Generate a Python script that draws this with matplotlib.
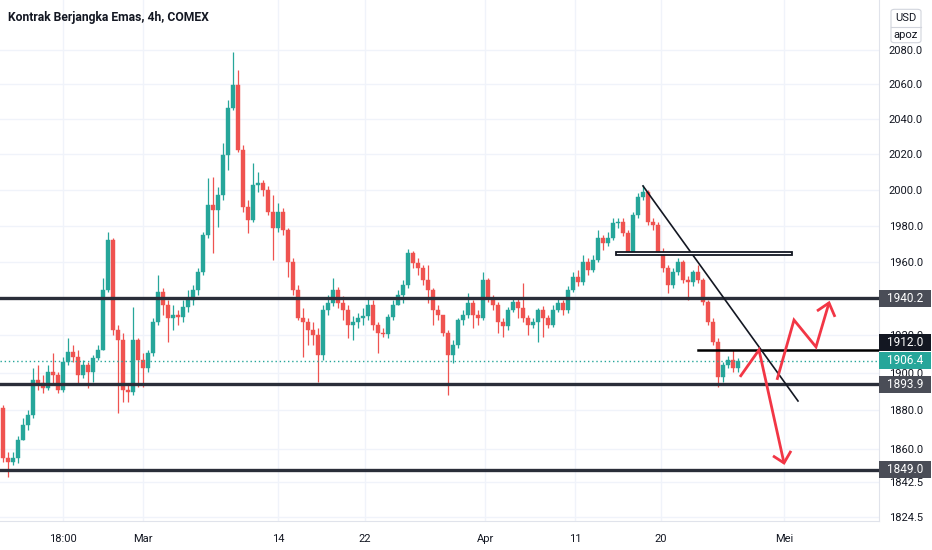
import numpy as np
import matplotlib.pyplot as plt
from matplotlib.patches import Rectangle, FancyBboxPatch
from matplotlib.ticker import FixedLocator, NullLocator, FuncFormatter

plt.rcParams['font.family'] = ['Roboto', 'DejaVu Sans']

title = "Kontrak Berjangka Emas, 4h, COMEX"

# candles, one every 8 hours or so
first_open = 1881.3
closes = [1855.1, 1853.1, 1855.1, 1864.5, 1872.4, 1877.6, 1896.2, 1894.6, 1891.9, 1900.4,
          1898.8, 1890.9, 1905.8, 1911.1, 1908.4, 1898.8, 1904.2, 1900.4, 1907.9, 1912.2,
          1944.7, 1972.1, 1922.9, 1917.5, 1890.9, 1889.8, 1917.5, 1906.8, 1902.6, 1910.6,
          1927.3, 1943.6, 1936.5, 1929.4, 1931.1, 1930.0, 1935.4, 1939.2, 1944.7, 1954.5,
          1974.9, 1991.6, 1988.8, 1997.1, 2019.7, 2046.5, 2059.7, 2022.5, 1990.4, 1983.2,
          2002.8, 2003.9, 1999.9, 1987.6, 1978.7, 1987.6, 1977.6, 1960.0, 1944.7, 1929.4,
          1927.3, 1922.9, 1920.2, 1909.5, 1933.8, 1937.6, 1944.7, 1937.6, 1933.8, 1925.6,
          1927.3, 1929.4, 1930.5, 1936.5, 1925.6, 1921.3, 1920.8, 1930.0, 1936.5, 1941.9,
          1947.4, 1964.9, 1959.4, 1956.7, 1950.1, 1944.7, 1933.8, 1931.1, 1921.3, 1909.5,
          1914.9, 1928.3, 1931.1, 1937.6, 1931.1, 1929.4, 1950.1, 1940.3, 1936.5, 1927.3,
          1925.1, 1933.8, 1938.1, 1934.9, 1929.4, 1925.6, 1927.3, 1933.8, 1929.4, 1925.6,
          1933.8, 1937.6, 1933.8, 1944.7, 1951.8, 1949.0, 1959.9, 1955.6, 1961.0, 1973.2,
          1970.5, 1973.2, 1981.5, 1982.1, 1976.0, 1965.5, 1985.9, 1996.0, 1998.8, 1982.1,
          1980.4, 1965.5, 1956.7, 1947.4, 1954.5, 1960.0, 1950.1, 1949.0, 1954.5, 1950.1,
          1938.1, 1927.3, 1916.5, 1897.8, 1904.2, 1906.8, 1902.6, 1906.4]
highs = [1882.9, 1858.2, 1858.2, 1866.6, 1876.1, 1880.2, 1902.6, 1904.2, 1898.8, 1904.2,
         1910.6, 1900.4, 1908.4, 1918.6, 1914.9, 1912.2, 1906.8, 1905.8, 1909.5, 1914.9,
         1951.2, 1976.5, 1973.2, 1925.6, 1921.3, 1893.5, 1935.4, 1918.6, 1910.6, 1912.2,
         1929.4, 1952.8, 1945.8, 1939.2, 1936.5, 1933.8, 1939.2, 1944.7, 1947.4, 1956.7,
         1976.5, 2006.7, 2007.3, 2001.6, 2026.5, 2051.1, 2078.8, 2068.4, 2025.3, 1994.4,
         2015.2, 2010.1, 2005.6, 2002.2, 1997.1, 1992.7, 1989.9, 1978.7, 1962.2, 1947.4,
         1934.9, 1929.4, 1927.3, 1924.0, 1936.5, 1941.9, 1951.2, 1946.3, 1941.3, 1936.5,
         1930.5, 1932.1, 1934.9, 1940.3, 1939.2, 1927.3, 1924.0, 1931.6, 1939.2, 1944.7,
         1950.1, 1967.1, 1966.0, 1962.2, 1958.3, 1958.3, 1945.8, 1936.5, 1931.1, 1922.9,
         1917.5, 1929.4, 1933.8, 1943.0, 1939.2, 1933.8, 1954.5, 1951.2, 1941.9, 1938.1,
         1929.4, 1935.4, 1940.3, 1940.3, 1948.5, 1931.1, 1929.4, 1934.9, 1935.9, 1931.1,
         1936.5, 1940.3, 1939.2, 1946.9, 1954.5, 1955.6, 1963.8, 1962.2, 1963.8, 1977.6,
         1974.9, 1976.5, 1984.3, 1984.3, 1984.3, 1977.6, 1987.6, 1998.3, 2002.8, 1999.9,
         1984.3, 1982.1, 1967.7, 1958.3, 1956.7, 1962.2, 1961.0, 1952.3, 1955.6, 1958.3,
         1951.2, 1939.2, 1929.4, 1918.6, 1905.8, 1909.0, 1912.2, 1907.9]
lows = [1853.1, 1845.3, 1851.5, 1852.5, 1864.5, 1869.8, 1876.1, 1890.9, 1889.3, 1890.9,
        1893.5, 1889.3, 1889.8, 1904.2, 1905.8, 1893.5, 1897.2, 1891.9, 1895.1, 1906.8,
        1912.2, 1943.6, 1920.2, 1878.7, 1884.5, 1884.5, 1888.2, 1892.5, 1892.5, 1900.4,
        1909.0, 1925.6, 1931.1, 1916.5, 1922.9, 1925.6, 1927.3, 1932.7, 1936.5, 1941.9,
        1952.8, 1973.2, 1964.9, 1979.3, 1994.4, 2011.2, 2045.3, 2021.4, 1987.6, 1976.0,
        1982.1, 1998.8, 1996.6, 1985.9, 1961.0, 1976.5, 1974.9, 1951.8, 1941.9, 1928.3,
        1908.4, 1914.9, 1914.9, 1895.1, 1906.8, 1931.1, 1935.9, 1934.9, 1928.3, 1918.6,
        1917.5, 1924.0, 1925.6, 1928.3, 1922.9, 1910.6, 1919.1, 1918.6, 1928.3, 1938.1,
        1937.6, 1945.8, 1956.7, 1952.8, 1947.4, 1937.6, 1925.6, 1928.3, 1919.7, 1888.2,
        1905.2, 1913.3, 1925.6, 1929.4, 1924.0, 1925.6, 1928.3, 1938.1, 1933.8, 1921.3,
        1919.1, 1922.9, 1932.7, 1929.4, 1927.3, 1920.2, 1924.0, 1916.5, 1919.1, 1924.0,
        1924.6, 1932.7, 1931.1, 1932.1, 1943.6, 1946.9, 1947.4, 1952.8, 1954.5, 1959.9,
        1966.6, 1968.8, 1972.1, 1978.7, 1974.3, 1963.8, 1964.4, 1984.3, 1994.4, 1980.4,
        1977.6, 1963.8, 1954.5, 1943.0, 1945.8, 1952.8, 1948.5, 1939.2, 1946.9, 1948.5,
        1936.5, 1925.6, 1914.9, 1892.5, 1895.1, 1902.6, 1900.4, 1900.4]

x_tick_pos = [12.0, 28.0, 55.0, 72.4, 96.4, 114.4, 131.5, 156.2]
x_tick_labels = ["18:00", "Mar", "14", "22", "Apr", "11", "20", "Mei"]
y_ticks = [2080, 2060, 2040, 2020, 2000, 1980, 1960, 1940, 1920, 1900, 1880, 1860, 1842.5, 1824.5]
y_hidden = [1940]  # label sits fully under the 1940.2 tag

# drawings on the chart
levels = [1940.2, 1893.9, 1849.0]
level_short = 1912.0
level_short_start = 139.0
last_price = 1906.4
trend_x = [128.0, 159.0]
trend_y = [2002.2, 1885.0]
box_x = [122.5, 157.8]
box_y = [1963.7, 1965.4]
arrow1_x = [147.4, 151.2, 156.2]
arrow1_y = [1897.8, 1912.2, 1852.5]
arrow1_head_x = [154.0, 156.2, 157.6]
arrow1_head_y = [1856.2, 1852.5, 1858.8]
arrow2_x = [154.8, 158.2, 162.6, 165.2]
arrow2_y = [1896.2, 1928.3, 1913.8, 1937.6]
arrow2_head_x = [162.8, 165.2, 166.4]
arrow2_head_y = [1933.2, 1937.6, 1930.0]

# price tags on the axis: value, colour, shift in px
tags = [(1940.2, '#4a4d57', 0), (1912.0, '#131722', 8), (1906.4, '#26a69a', 0),
        (1893.9, '#4a4d57', 0), (1849.0, '#4a4d57', 0)]

UP = '#26a69a'
DOWN = '#ef5350'
GRID = '#f0f3fa'
TXT = '#131722'

W, H = 932, 550
fig = plt.figure(figsize=(W / 100, H / 100), dpi=100)
ax_w, ax_h = 879, 521
ax = fig.add_axes([0, (H - ax_h) / H, ax_w / W, ax_h / H])

closes = np.array(closes)
opens = np.concatenate([[first_open], closes[:-1]])
highs = np.maximum(np.array(highs), np.maximum(opens, closes))
lows = np.minimum(np.array(lows), np.minimum(opens, closes))
idx = np.arange(len(closes))
colors = np.where(closes >= opens, UP, DOWN)

ax.vlines(idx, lows, highs, color=colors, lw=0.9, zorder=2)
body = np.where(np.abs(closes - opens) < 0.4, 0.4, closes - opens)
ax.bar(idx, body, bottom=opens, width=0.72, color=colors, edgecolor=colors, lw=0.3, zorder=2)

ymin, ymax = 1822.6, 2109.4
ax.set_yscale('log')
ax.set_ylim(ymin, ymax)
ax.set_xlim(-0.6, 175.2)
px_per_ln = ax_h / np.log(ymax / ymin)

ax.yaxis.set_major_locator(FixedLocator(y_ticks))
ax.yaxis.set_minor_locator(NullLocator())
ax.yaxis.set_major_formatter(FuncFormatter(lambda v, p: "" if v in y_hidden else f"{v:.1f}"))
ax.yaxis.tick_right()
ax.set_xticks(x_tick_pos)
ax.set_xticklabels(x_tick_labels)
ax.tick_params(axis='y', length=0, pad=7, labelsize=8, labelcolor=TXT)
ax.tick_params(axis='x', length=0, pad=9, labelsize=8, labelcolor=TXT)
ax.grid(True, color=GRID, lw=1, zorder=0)
ax.set_axisbelow(True)
for s in ['top', 'left']:
    ax.spines[s].set_visible(False)
for s in ['right', 'bottom']:
    ax.spines[s].set_color('#e0e3eb')

# horizontal levels
for lv in levels:
    ax.axhline(lv, color='#2a2e39', lw=2.4, zorder=3)
ax.plot([level_short_start, 175.2], [level_short, level_short], color='#000000', lw=1.8, zorder=3)
ax.axhline(last_price, color=UP, lw=1, ls=(0, (1, 2)), zorder=3)

# trendline and box
ax.plot(trend_x, trend_y, color=TXT, lw=1.2, zorder=4)
ax.add_patch(Rectangle((box_x[0], box_y[0]), box_x[1] - box_x[0], box_y[1] - box_y[0],
                       fc='white', ec='#131722', lw=1.3, zorder=4))

# red scenario arrows
red = '#f23645'
for xs, ys in [(arrow1_x, arrow1_y), (arrow1_head_x, arrow1_head_y),
               (arrow2_x, arrow2_y), (arrow2_head_x, arrow2_head_y)]:
    ax.plot(xs, ys, color=red, lw=2, zorder=5, solid_joinstyle='miter', solid_capstyle='butt')

# price tags on the right axis
ytr = ax.get_yaxis_transform()
for val, col, shift in tags:
    yc = val * np.exp(shift / px_per_ln)
    lo = yc * np.exp(-8.5 / px_per_ln)
    hi = yc * np.exp(8.5 / px_per_ln)
    ax.add_patch(Rectangle((1.0, lo), 52 / ax_w, hi - lo, transform=ytr, fc=col, ec='none',
                           zorder=10, clip_on=False))
    ax.text(1.0 + 26 / ax_w, yc, f"{val:.1f}", transform=ytr, ha='center', va='center',
            color='white', fontsize=8.5, zorder=11, clip_on=False)

# currency box top right
fig.patches.append(FancyBboxPatch((891 / W, 1 - 42.7 / H), 30 / W, 33.4 / H,
                                  boxstyle='round,pad=0,rounding_size=0.004',
                                  transform=fig.transFigure, fc='white', ec='#d1d4dc', lw=0.8, zorder=20))
fig.lines.append(plt.Line2D([891 / W, 921 / W], [1 - 26.7 / H, 1 - 26.7 / H],
                            transform=fig.transFigure, color='#d1d4dc', lw=0.8, zorder=21))
fig.text(906 / W, 1 - 18 / H, "USD", ha='center', va='center', fontsize=8, color=TXT, zorder=22)
fig.text(906 / W, 1 - 35 / H, "apoz", ha='center', va='center', fontsize=8, color=TXT, zorder=22)

fig.text(8 / W, 1 - 18 / H, title, ha='left', va='center', fontsize=8.7, color=TXT, weight='bold')

fig.savefig('out.png', dpi=100)
